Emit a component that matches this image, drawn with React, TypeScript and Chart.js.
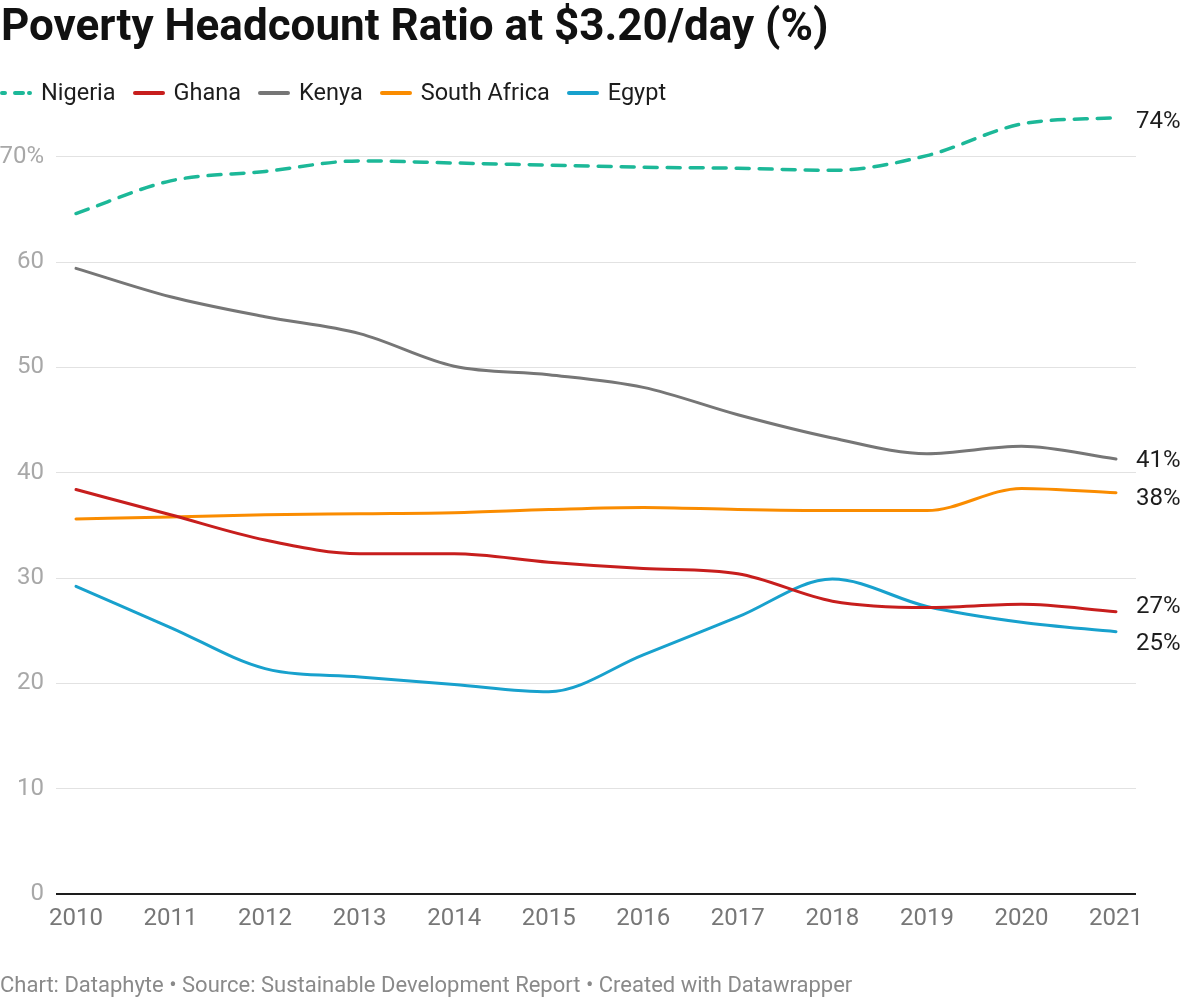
import React, { useEffect, useRef } from 'react';
import { Chart, registerables } from 'chart.js';
Chart.register(...registerables);

const years = [2010, 2011, 2012, 2013, 2014, 2015, 2016, 2017, 2018, 2019, 2020, 2021];
const nigeria = [64.6, 67.7, 68.6, 69.6, 69.4, 69.2, 69.0, 68.9, 68.7, 70.1, 73.1, 73.7];
const ghana = [38.4, 36.0, 33.6, 32.3, 32.3, 31.5, 30.9, 30.4, 27.8, 27.2, 27.5, 26.8];
const kenya = [59.4, 56.7, 54.8, 53.2, 50.1, 49.3, 48.1, 45.5, 43.3, 41.8, 42.5, 41.3];
const southAfrica = [35.6, 35.8, 36.0, 36.1, 36.2, 36.5, 36.7, 36.5, 36.4, 36.4, 38.5, 38.1];
const egypt = [29.2, 25.3, 21.4, 20.6, 19.9, 19.2, 22.7, 26.3, 29.9, 27.3, 25.8, 24.9];

const seriesNames = ['Nigeria', 'Ghana', 'Kenya', 'South Africa', 'Egypt'];
const seriesData = [nigeria, ghana, kenya, southAfrica, egypt];
const seriesColors = ['#1cb898', '#c71e1d', '#767676', '#fa8c00', '#18a1cd'];
const endLabels = ['74%', '27%', '41%', '38%', '25%'];
const yTicks = [0, 10, 20, 30, 40, 50, 60, 70];

const titleText = 'Poverty Headcount Ratio at $3.20/day (%)';
const footerText = 'Chart: Dataphyte • Source: Sustainable Development Report • Created with Datawrapper';

const FONT = 'Roboto, "Noto Sans", sans-serif';
const LABEL_SIZE = 24;

const endLabelPlugin = {
  id: 'endLabels',
  afterDatasetsDraw(chart: any) {
    const ctx = chart.ctx;
    const items = chart.data.datasets.map((ds: any, i: number) => {
      const meta = chart.getDatasetMeta(i);
      const pt = meta.data[meta.data.length - 1];
      return { y: pt.y + 4, text: endLabels[i] };
    }).sort((a: any, b: any) => a.y - b.y);
    const gap = 37.5;
    for (let iter = 0; iter < 60; iter++) {
      let moved = false;
      for (let k = 0; k < items.length - 1; k++) {
        const d = items[k + 1].y - items[k].y;
        if (d < gap - 0.01) {
          const s = (gap - d) / 2;
          items[k].y -= s;
          items[k + 1].y += s;
          moved = true;
        }
      }
      if (!moved) break;
    }
    ctx.save();
    ctx.font = LABEL_SIZE + 'px ' + FONT;
    ctx.fillStyle = '#1d1d1d';
    ctx.textBaseline = 'middle';
    ctx.textAlign = 'left';
    items.forEach((it: any) => ctx.fillText(it.text, chart.chartArea.right, it.y));
    ctx.restore();
  },
};

function Swatch({ color, dashed }: { color: string; dashed: boolean }) {
  return (
    <svg width={32} height={8} style={{ display: 'block' }}>
      <line
        x1={2}
        y1={4}
        x2={30}
        y2={4}
        stroke={color}
        strokeWidth={4}
        strokeLinecap="round"
        strokeDasharray={dashed ? '3 10 8 6 4 20' : undefined}
      />
    </svg>
  );
}

export default function App() {
  const canvasRef = useRef<HTMLCanvasElement | null>(null);

  useEffect(() => {
    document.body.style.margin = '0';
    const canvas = canvasRef.current;
    if (!canvas) return;
    const chart = new Chart(canvas, {
      type: 'line',
      data: {
        datasets: seriesNames.map((name, i) => ({
          label: name,
          data: seriesData[i].map((v, j) => ({ x: years[j], y: v })),
          borderColor: seriesColors[i],
          backgroundColor: seriesColors[i],
          borderWidth: i === 0 ? 3.5 : 3,
          borderDash: i === 0 ? [13, 10] : [],
          borderCapStyle: 'round',
          pointRadius: 0,
          cubicInterpolationMode: 'monotone',
          fill: false,
        })),
      },
      options: {
        responsive: false,
        animation: false,
        layout: { padding: { top: 104, right: 64, bottom: 0, left: 0 } },
        plugins: {
          legend: { display: false },
          tooltip: { enabled: false },
        },
        scales: {
          x: {
            type: 'linear',
            min: 2010 - 20 / 94.55,
            max: 2021 + 20 / 94.55,
            afterBuildTicks: (s: any) => {
              s.ticks = years.map((v) => ({ value: v }));
            },
            grid: { display: false, drawTicks: false },
            border: { display: false },
            ticks: {
              callback: (v: any) => String(v),
              color: '#777777',
              font: { family: FONT, size: LABEL_SIZE },
              padding: 11,
              maxRotation: 0,
              autoSkip: false,
            },
            afterFit: (s: any) => {
              s.height = 106;
            },
          },
          y: {
            min: 0,
            max: 75,
            afterBuildTicks: (s: any) => {
              s.ticks = yTicks.map((v) => ({ value: v }));
            },
            grid: {
              color: (c: any) => (c.tick && c.tick.value === 0 ? '#1d1d1d' : '#e2e2e2'),
              lineWidth: (c: any) => (c.tick && c.tick.value === 0 ? 2 : 1),
              drawTicks: false,
            },
            border: { display: false },
            ticks: {
              callback: (v: any) => (v === 70 ? '70%' : String(v)),
              color: '#a8a8a8',
              font: { family: FONT, size: LABEL_SIZE },
              padding: 12,
            },
            afterFit: (s: any) => {
              s.width = 56;
            },
          },
        },
      } as any,
      plugins: [endLabelPlugin],
    });
    return () => chart.destroy();
  }, []);

  return (
    <div style={{ position: 'fixed', left: 0, top: 0, width: 1200, height: 1000, background: '#fff', fontFamily: FONT }}>
      <canvas ref={canvasRef} width={1200} height={1000} style={{ position: 'absolute', left: 0, top: 0, width: 1200, height: 1000 }} />
      <div style={{ position: 'absolute', left: 1, top: 3, fontSize: 44, lineHeight: 1, fontWeight: 700, color: '#111111', whiteSpace: 'nowrap' }}>
        {titleText}
      </div>
      <div style={{ position: 'absolute', left: 0, top: 81, display: 'flex', alignItems: 'center', fontSize: 23.5, lineHeight: 1, color: '#1d1d1d' }}>
        {seriesNames.map((name, i) => (
          <div key={name} style={{ display: 'flex', alignItems: 'center', marginRight: 17 }}>
            <Swatch color={seriesColors[i]} dashed={i === 0} />
            <span style={{ marginLeft: 9 }}>{name}</span>
          </div>
        ))}
      </div>
      <div style={{ position: 'absolute', left: 0, top: 974, fontSize: 22, lineHeight: 1, color: '#8a8a8a', whiteSpace: 'nowrap' }}>
        {footerText}
      </div>
    </div>
  );
}
